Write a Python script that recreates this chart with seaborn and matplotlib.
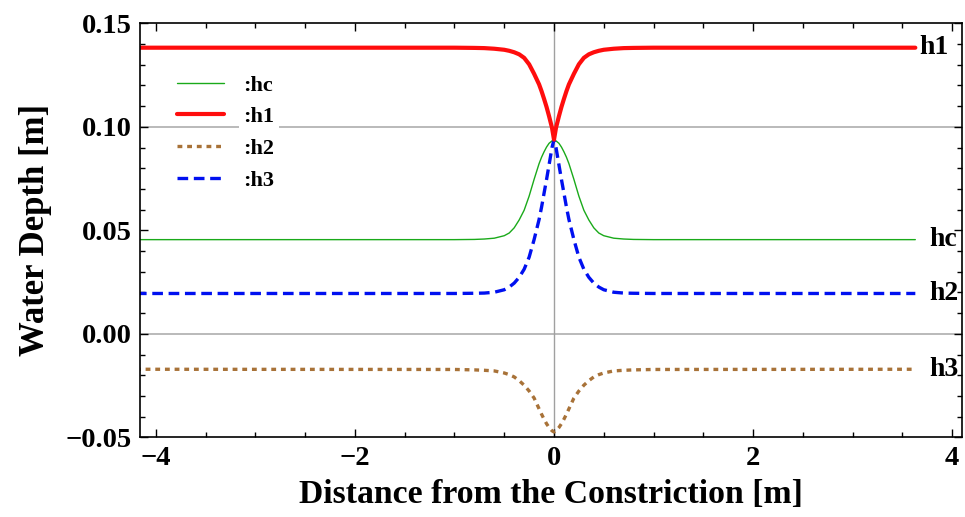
import seaborn as sns
import matplotlib
matplotlib.use('Agg')
import matplotlib.pyplot as plt
from matplotlib.ticker import MultipleLocator, FuncFormatter

# distance from the constriction [m], shared by all curves
dist = [-4.2, -1.0, -0.8, -0.7, -0.6, -0.5, -0.45, -0.4, -0.35, -0.3, -0.25, -0.2, -0.15, -0.125, -0.1, -0.075, -0.05, -0.02, 0.0,
        0.02, 0.05, 0.075, 0.1, 0.125, 0.15, 0.2, 0.25, 0.3, 0.35, 0.4, 0.45, 0.5, 0.6, 0.7, 0.8, 1.0, 3.63]

h1 = [0.1382, 0.1382, 0.1381, 0.1380, 0.1377, 0.1372, 0.1367, 0.1360, 0.1350, 0.1333, 0.1302, 0.1256, 0.1205, 0.1172, 0.1135, 0.1096, 0.1052, 0.0995, 0.0938,
      0.0995, 0.1052, 0.1096, 0.1135, 0.1172, 0.1205, 0.1256, 0.1302, 0.1333, 0.1350, 0.1360, 0.1367, 0.1372, 0.1377, 0.1380, 0.1381, 0.1382, 0.1382]
hc = [0.0455, 0.0455, 0.0456, 0.0458, 0.0462, 0.0474, 0.0487, 0.0512, 0.0550, 0.0597, 0.0665, 0.0746, 0.0822, 0.0853, 0.0879, 0.0902, 0.0920, 0.0932, 0.0936,
      0.0932, 0.0920, 0.0902, 0.0879, 0.0853, 0.0822, 0.0746, 0.0665, 0.0597, 0.0550, 0.0512, 0.0487, 0.0474, 0.0462, 0.0458, 0.0456, 0.0455, 0.0455]
h3 = [0.0195, 0.0195, 0.0196, 0.0197, 0.0201, 0.0213, 0.0226, 0.0245, 0.0273, 0.0312, 0.0370, 0.0455, 0.0552, 0.0612, 0.0679, 0.0745, 0.0815, 0.0900, 0.0938,
      0.0900, 0.0815, 0.0745, 0.0679, 0.0612, 0.0552, 0.0455, 0.0370, 0.0312, 0.0273, 0.0245, 0.0226, 0.0213, 0.0201, 0.0197, 0.0196, 0.0195, 0.0195]
h2 = [-0.0171, -0.0172, -0.0174, -0.0176, -0.0179, -0.0189, -0.0197, -0.0208, -0.0226, -0.0248, -0.0276, -0.0310, -0.0362, -0.0388, -0.0412, -0.0434, -0.0452, -0.0468, -0.0474,
      -0.0468, -0.0452, -0.0434, -0.0412, -0.0388, -0.0362, -0.0310, -0.0276, -0.0248, -0.0226, -0.0208, -0.0197, -0.0189, -0.0179, -0.0176, -0.0174, -0.0172, -0.0171]

# text put at the right end of each curve
end_labels = ['h1', 'hc', 'h2', 'h3']
end_label_y = [0.1382, 0.0455, 0.0195, -0.0171]
end_label_x = [3.67, 3.77, 3.77, 3.77]

sns.set_style('ticks')
plt.rcParams['font.family'] = ['Liberation Serif', 'DejaVu Serif']
plt.rcParams['font.weight'] = 'bold'
plt.rcParams.update({'text.color': 'black', 'axes.labelcolor': 'black',
                     'xtick.color': 'black', 'ytick.color': 'black',
                     'axes.edgecolor': 'black'})

fig = plt.figure(figsize=(9.65, 5.17), dpi=100)
ax = fig.add_axes([0.145, 0.154, 0.852, 0.801])

# grid lines of the original
ax.axhline(0.10, color='#b4b4b4', lw=1.3, zorder=0)
ax.axhline(0.0, color='#b4b4b4', lw=1.3, zorder=0)
ax.axvline(0.0, color='#a0a0a0', lw=1.0, zorder=0)

sns.lineplot(x=dist, y=hc, ax=ax, color='#1aaa1a', lw=1.0, label=':hc')
sns.lineplot(x=dist, y=h3, ax=ax, color='#0010f0', lw=2.4, linestyle=(0, (3.2, 1.7)), label=':h3')
sns.lineplot(x=dist, y=h2, ax=ax, color='#a87238', lw=2.4, linestyle=(0, (1.45, 1.45)), label=':h2')
sns.lineplot(x=dist, y=h1, ax=ax, color='#ff0d0d', lw=3.0, label=':h1')

for t, x, y in zip(end_labels, end_label_x, end_label_y):
    ax.text(x, y, t, fontsize=20, fontweight='bold', va='center', ha='left')

ax.set_xlim(-4.16, 4.1)
ax.set_ylim(-0.05, 0.15)
ax.xaxis.set_major_locator(MultipleLocator(2))
ax.xaxis.set_minor_locator(MultipleLocator(0.5))
ax.yaxis.set_major_locator(MultipleLocator(0.05))
ax.yaxis.set_minor_locator(MultipleLocator(0.01))
ax.yaxis.set_major_formatter(FuncFormatter(lambda v, p: f"{v:.2f}".replace('-', '\u2212')))
ax.tick_params(which='both', direction='in', top=True, right=True, labelsize=20.5, width=1)
ax.tick_params(which='major', length=6, pad=6)
ax.tick_params(which='minor', length=3.5)
for s in ax.spines.values():
    s.set_linewidth(1.2)

ax.set_xlabel('Distance from the Constriction [m]', fontsize=24.3, fontweight='bold', labelpad=6)
ax.set_ylabel('Water Depth [m]', fontsize=25, fontweight='bold', labelpad=10)

handles, labels = ax.get_legend_handles_labels()
order = [labels.index(l) for l in [':hc', ':h1', ':h2', ':h3']]
leg = ax.legend([handles[i] for i in order], [labels[i] for i in order],
                loc='upper left', bbox_to_anchor=(0.045, 0.875), frameon=False,
                fontsize=16, handlelength=2.1, handletextpad=0.9, labelspacing=0.5,
                borderpad=0, borderaxespad=0)
for t in leg.get_texts():
    t.set_bbox(dict(facecolor='white', edgecolor='none', pad=3))

fig.savefig('out.png', dpi=100)
